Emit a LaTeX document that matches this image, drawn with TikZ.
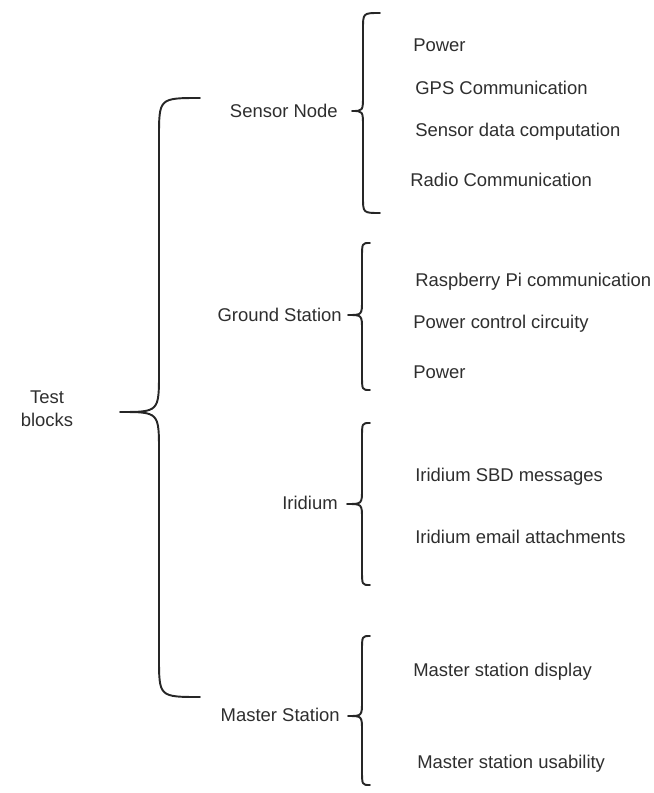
\documentclass[tikz,border=0pt]{standalone}
\usepackage{xcolor}
\usepackage{fontspec}
\setmainfont{Liberation Sans}
\usepackage{tikz}
\usetikzlibrary{calc}

\definecolor{txtgray}{HTML}{2E2E2E}

% Llave: punta, extremo superior, extremo inferior, desplazamiento del tallo, radio
\newcommand{\llave}[5]{%
  \draw[braceline] (#2) .. controls ($(#1 |- #2)+(#4,0)$) .. ($(#1 |- #2)+(#4,#5)$)
    -- ($(#1)+(#4,-#5)$) .. controls ($(#1)+(#4,0)$) .. (#1)
    .. controls ($(#1)+(#4,0)$) .. ($(#1)+(#4,#5)$)
    -- ($(#1 |- #3)+(#4,-#5)$) .. controls ($(#1 |- #3)+(#4,0)$) .. (#3);}

\begin{document}
\begin{tikzpicture}[x=0.02cm, y=-0.02cm]
    % Definición de estilos
    \tikzstyle{braceline}=[draw=black!85, line width=1.1pt, line cap=round, line join=round]
    \tikzstyle{parent}=[anchor=east, inner sep=0pt, text height=7.6pt, text depth=0pt, text=txtgray, font=\fontsize{10.5}{13}\selectfont]
    \tikzstyle{leaf}=[parent, anchor=west]
    \useasboundingbox (0,0) rectangle (653,793);
    % Raíz
    \node[inner sep=0pt, align=center, text=txtgray, font=\fontsize{10.5}{13}\selectfont] (test) at (47,409) {Test\\blocks};
    % Bloques de prueba
    \node[parent] (sensor) at (338,111) {Sensor Node};
    \node[parent] (ground) at (342,315) {Ground Station};
    \node[parent] (iridium) at (338,503) {Iridium};
    \node[parent] (master) at (340,715) {Master Station};
    % Llave principal
    \coordinate (tb-tip) at (120,412);
    \coordinate (tb-top) at (200,98);
    \coordinate (tb-bot) at (200,697);
    \llave{tb-tip}{tb-top}{tb-bot}{39}{40}
    % Sensor Node
    \node[leaf] (sn-power) at (413,45) {Power};
    \node[leaf] (sn-gps) at (415,88) {GPS Communication};
    \node[leaf] (sn-data) at (415,130) {Sensor data computation};
    \node[leaf] (sn-radio) at (410,180) {Radio Communication};
    \coordinate (sn-tip) at (352,111);
    \coordinate (sn-top) at (380,13);
    \coordinate (sn-bot) at (380,213);
    \llave{sn-tip}{sn-top}{sn-bot}{11}{16}
    % Ground Station
    \node[leaf] (gs-rpi) at (415,280) {Raspberry Pi communication};
    \node[leaf] (gs-ctrl) at (413,322) {Power control circuity};
    \node[leaf] (gs-power) at (413,372) {Power};
    \coordinate (gs-tip) at (348,315);
    \coordinate (gs-top) at (370,243);
    \coordinate (gs-bot) at (370,390);
    \llave{gs-tip}{gs-top}{gs-bot}{14}{15}
    % Iridium
    \node[leaf] (ir-sbd) at (415,475) {Iridium SBD messages};
    \node[leaf] (ir-mail) at (415,537) {Iridium email attachments};
    \coordinate (ir-tip) at (347,504);
    \coordinate (ir-top) at (370,423);
    \coordinate (ir-bot) at (370,585);
    \llave{ir-tip}{ir-top}{ir-bot}{15}{15}
    % Master Station
    \node[leaf] (ms-disp) at (413,670) {Master station display};
    \node[leaf] (ms-use) at (417,762) {Master station usability};
    \coordinate (ms-tip) at (348,716);
    \coordinate (ms-top) at (370,636);
    \coordinate (ms-bot) at (370,785);
    \llave{ms-tip}{ms-top}{ms-bot}{14}{15}
\end{tikzpicture}
\end{document}
